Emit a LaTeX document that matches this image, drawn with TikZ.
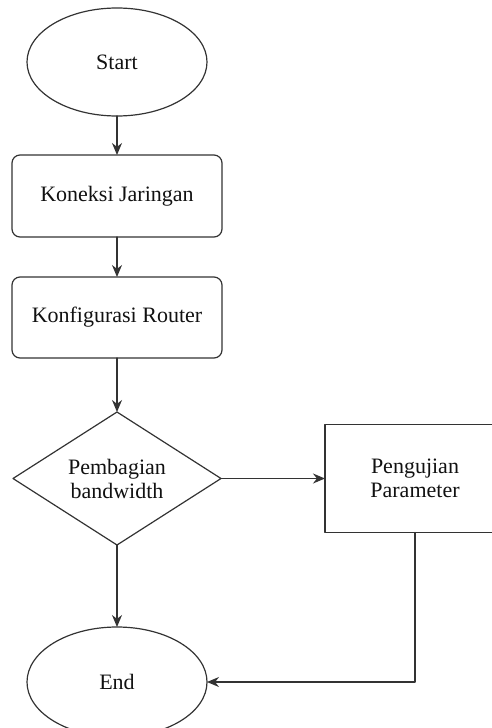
\documentclass[tikz,border=0pt]{standalone}
\usepackage{fontspec}
\setmainfont{Liberation Serif}
\usepackage{xcolor}
\usetikzlibrary{arrows.meta,positioning,shapes.geometric}
\definecolor{linegrey}{HTML}{333333}
\definecolor{ink}{HTML}{111111}
\tikzset{
    every picture/.style={line cap=round,line join=round},
    terminal/.style={draw=linegrey,ellipse,line width=1.2pt,outer sep=0pt,
      minimum width=180pt,minimum height=108pt,inner sep=0pt,text=ink},
    process/.style={draw=linegrey,line width=1.2pt,rounded corners=8pt,outer sep=0pt,
      minimum width=210pt,minimum height=81pt,inner sep=2pt,text=ink,align=center},
    decision/.style={draw=linegrey,diamond,shape aspect=1.56,line width=1.2pt,outer sep=0pt,
      minimum width=208pt,minimum height=133pt,inner sep=0pt,text=ink,align=center},
    testbox/.style={draw=linegrey,line width=1.2pt,outer sep=0pt,
      minimum width=180pt,minimum height=108pt,inner sep=2pt,text=ink,align=center},
    flowarrow/.style={-{Stealth[length=12pt,width=10pt]},draw=linegrey,line width=1.2pt}
}

\begin{document}
\begin{tikzpicture}[x=1pt,y=1pt,font=\fontsize{22}{24}\selectfont]
  \useasboundingbox (0,0) rectangle (492,-728);

  \node[terminal] (start) at (117,-62) {Start};
  \node[process,below=39pt of start,minimum height=82pt] (koneksi) {Koneksi Jaringan};
  \node[process,below=40pt of koneksi] (router) {Konfigurasi Router};
  \node[decision,below=54pt of router] (bagi) {Pembagian\\bandwidth};
  \node[testbox,right=104pt of bagi] (uji) {Pengujian\\Parameter};
  \node[terminal,below=82pt of bagi,minimum height=110pt] (end) {End};

  \draw[flowarrow] (start) -- (koneksi);
  \draw[flowarrow] (koneksi) -- (router);
  \draw[flowarrow] (router) -- (bagi);
  \draw[flowarrow] (bagi) -- (end);
  \draw[flowarrow] (bagi.east) -- (uji.west);
  \draw[flowarrow] (uji.south) |- (end.east);
\end{tikzpicture}
\end{document}
